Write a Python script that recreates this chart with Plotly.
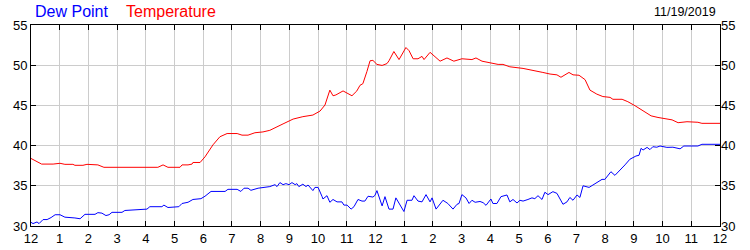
import plotly.graph_objects as go

# Hours since midnight (0 = 12 AM, 24 = next 12 AM)
temp_hours = [0.00, 0.37, 0.77, 0.91, 1.01, 1.18, 1.46, 1.53, 1.81, 1.95, 2.23, 2.33, 2.54, 4.42, 4.60, 4.77,
              5.19, 5.26, 5.47, 5.61, 5.64, 5.89, 6.06, 6.34, 6.58, 6.83, 7.18, 7.35, 7.56, 7.80, 8.08, 8.32,
              8.78, 9.13, 9.47, 9.82, 10.07, 10.24, 10.41, 10.52, 10.62, 10.87, 11.18, 11.35, 11.46, 11.56,
              11.70, 11.81, 11.91, 12.05, 12.23, 12.40, 12.47, 12.64, 12.82, 13.06, 13.17, 13.31, 13.48,
              13.62, 13.69, 13.90, 14.25, 14.49, 14.73, 15.01, 15.36, 15.50, 15.71, 15.99, 16.27, 16.44,
              16.68, 17.14, 17.49, 17.83, 18.08, 18.32, 18.46, 18.74, 18.88, 19.09, 19.30, 19.47, 19.71,
              19.92, 20.17, 20.27, 20.59, 20.79, 21.04, 21.32, 21.60, 21.84, 22.15, 22.33, 22.54, 22.71,
              22.85, 23.23, 23.37, 24.00]
temperature = [38.4, 37.7, 37.7, 37.8, 37.8, 37.67, 37.67, 37.55, 37.55, 37.67, 37.67, 37.6, 37.3, 37.3, 37.6, 37.3,
               37.3, 37.6, 37.6, 37.7, 37.9, 37.9, 38.6, 40.1, 41.1, 41.5, 41.5, 41.3, 41.3, 41.6, 41.7, 41.9,
               42.7, 43.3, 43.6, 43.8, 44.3, 45.05, 46.9, 46.2, 46.3, 46.8, 46.2, 46.8, 47.5, 47.7,
               49.2, 50.55, 50.6, 50.1, 49.97, 50.2, 50.55, 51.7, 50.7, 52.2, 51.8, 50.8, 50.8,
               51.1, 50.7, 51.6, 50.5, 50.9, 50.5, 50.8, 50.7, 50.9, 50.5, 50.3, 50.1, 50.1,
               49.8, 49.6, 49.3, 49.1, 48.9, 48.8, 48.5, 49.1, 48.8, 48.75, 48.2, 46.9, 46.4,
               46.1, 46.0, 45.76, 45.76, 45.46, 44.96, 44.34, 43.7, 43.5, 43.3, 43.2, 42.85, 42.9,
               42.97, 42.9, 42.77, 42.77]

dew_hours = [0.00, 0.07, 0.21, 0.28, 0.42, 0.56, 0.70, 0.84, 1.01, 1.18, 1.53, 1.71, 1.88, 2.23, 2.33, 2.47,
             2.61, 2.72, 2.82, 3.17, 3.27, 3.73, 4.04, 4.14, 4.56, 4.63, 4.77, 5.15, 5.26, 5.47, 5.64, 5.92,
             6.06, 6.27, 6.76, 6.86, 7.18, 7.31, 7.42, 7.56, 7.66, 7.91, 8.12, 8.32, 8.50, 8.57, 8.67, 8.78,
             8.88, 8.99, 9.09, 9.20, 9.26, 9.33, 9.47, 9.58, 9.65, 9.82, 9.89, 10.00, 10.14, 10.17, 10.31,
             10.41, 10.52, 10.66, 10.83, 10.90, 11.01, 11.15, 11.25, 11.39, 11.53, 11.63, 11.74, 11.91,
             11.98, 12.05, 12.23, 12.33, 12.47, 12.61, 12.71, 12.82, 12.99, 13.10, 13.27, 13.34, 13.48,
             13.62, 13.76, 13.90, 13.97, 14.11, 14.32, 14.35, 14.52, 14.70, 14.84, 14.91, 15.01, 15.15,
             15.26, 15.36, 15.47, 15.64, 15.75, 15.85, 16.02, 16.09, 16.23, 16.37, 16.58, 16.68, 16.79,
             16.93, 17.03, 17.14, 17.31, 17.45, 17.55, 17.66, 17.80, 17.90, 18.01, 18.18, 18.32, 18.53,
             18.67, 18.77, 18.88, 19.02, 19.12, 19.23, 19.44, 19.64, 19.89, 19.99, 20.20, 20.34, 20.59,
             20.69, 20.86, 21.07, 21.18, 21.25, 21.32, 21.46, 21.56, 21.66, 21.80, 21.91, 22.15, 22.36,
             22.61, 22.74, 23.23, 23.37, 24.00]
dew_point = [30.46, 30.3, 30.5, 30.3, 30.8, 30.8, 31.05, 31.4, 31.4, 31.1, 31.0, 30.9, 31.45, 31.45, 31.66, 31.6,
             31.3, 31.4, 31.7, 31.7, 31.93, 32.0, 32.1, 32.4, 32.4, 32.6, 32.3, 32.4, 32.8, 32.95, 33.3, 33.4,
             33.7, 34.3, 34.3, 34.56, 34.56, 34.3, 34.7, 34.7, 34.44, 34.7, 34.85, 34.9, 35.14, 34.9, 35.4, 35.14,
             35.27, 35.14, 35.4, 35.14, 35.27, 34.9, 35.2, 34.9, 35.1, 34.4, 34.8, 34.8, 33.65, 33.36, 33.77,
             32.95, 33.3, 33.0, 33.0, 32.6, 32.6, 32.1, 32.4, 33.3, 33.1, 33.1, 33.7, 33.6,
             33.8, 34.4, 32.5, 33.65, 32.1, 32.1, 33.5, 32.8, 31.8, 33.2, 33.2, 33.77, 33.1,
             33.0, 33.9, 33.0, 33.5, 32.1, 33.0, 33.2, 32.8, 32.1, 32.7, 32.8, 33.9, 33.5,
             32.8, 33.2, 32.95, 33.05, 32.9, 32.57, 33.36, 32.8, 32.8, 33.65, 33.86, 33.0, 33.3,
             32.86, 33.2, 33.1, 33.3, 33.5, 33.4, 33.77, 33.3, 34.2, 33.9, 34.27, 34.06, 32.7,
             33.0, 33.55, 33.2, 33.86, 33.55, 35.0, 34.8, 35.2, 35.8, 35.8, 36.75, 36.3, 37.17,
             37.6, 38.3, 38.7, 38.8, 39.66, 39.45, 39.78, 39.5, 39.86, 39.8, 39.95, 39.78, 39.8,
             39.6, 39.95, 39.95, 40.16, 40.16]

x_tick_vals = list(range(0, 25))
x_tick_text = ["12", "1", "2", "3", "4", "5", "6", "7", "8", "9", "10", "11",
               "12", "1", "2", "3", "4", "5", "6", "7", "8", "9", "10", "11", "12"]
y_tick_vals = [30, 35, 40, 45, 50, 55]
date_label = "11/19/2019"

FONT = "Liberation Sans, Arial, sans-serif"
GRID = "#cccccc"

fig = go.Figure()
fig.add_trace(go.Scatter(x=temp_hours, y=temperature, mode="lines",
                         line=dict(color="#ff0000", width=1), name="Temperature",
                         hoverinfo="x+y"))
fig.add_trace(go.Scatter(x=dew_hours, y=dew_point, mode="lines",
                         line=dict(color="#0000ff", width=1), name="Dew Point",
                         hoverinfo="x+y"))
# invisible trace to carry the right-hand axis
fig.add_trace(go.Scatter(x=[0], y=[30], yaxis="y2", mode="markers",
                         marker=dict(opacity=0), showlegend=False, hoverinfo="skip"))

axis_font = dict(family=FONT, size=13, color="#000000")

fig.update_layout(
    width=750, height=250,
    margin=dict(l=31, r=30, t=25, b=24, autoexpand=False),
    paper_bgcolor="white", plot_bgcolor="white",
    showlegend=False,
    xaxis=dict(range=[0, 24], tickvals=x_tick_vals, ticktext=x_tick_text,
               showgrid=True, gridcolor=GRID, gridwidth=1,
               showline=True, linecolor="black", linewidth=1, mirror="ticks",
               ticks="inside", ticklen=5, tickcolor="black", tickfont=axis_font,
               zeroline=False, fixedrange=True, automargin=False),
    yaxis=dict(range=[30, 55], tickvals=y_tick_vals,
               showgrid=True, gridcolor=GRID, gridwidth=1,
               showline=True, linecolor="black", linewidth=1, mirror="ticks",
               ticks="inside", ticklen=5, tickcolor="black", tickfont=axis_font,
               zeroline=False, fixedrange=True, automargin=False),
    yaxis2=dict(range=[30, 55], tickvals=y_tick_vals, overlaying="y", side="right",
                showgrid=False, showline=False,
                ticks="inside", ticklen=5, tickcolor="black", tickfont=axis_font,
                zeroline=False, fixedrange=True, automargin=False),
    annotations=[
        dict(text="Dew Point", xref="paper", yref="paper", x=0.003, y=1.065,
             xanchor="left", yanchor="middle", showarrow=False,
             font=dict(family=FONT, size=16, color="#0000ff")),
        dict(text="Temperature", xref="paper", yref="paper", x=0.135, y=1.065,
             xanchor="left", yanchor="middle", showarrow=False,
             font=dict(family=FONT, size=16, color="#ff0000")),
        dict(text=date_label, xref="paper", yref="paper", x=0.997, y=1.065,
             xanchor="right", yanchor="middle", showarrow=False,
             font=dict(family=FONT, size=12.5, color="#000000")),
    ],
)

fig.write_html("out.html")
